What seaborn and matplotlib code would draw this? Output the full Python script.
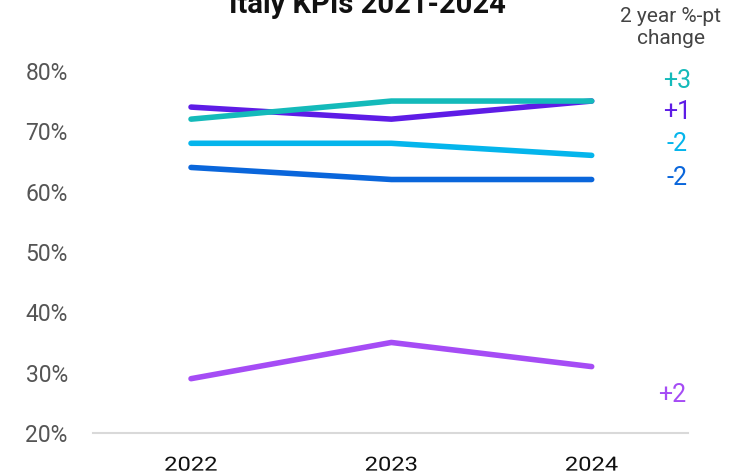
import matplotlib
matplotlib.use("Agg")
import matplotlib.pyplot as plt
import seaborn as sns
import pandas as pd
from matplotlib.patheffects import AbstractPathEffect
from matplotlib.transforms import Affine2D

years = ["2022", "2023", "2024"]
kpi_names = ["KPI A", "KPI B", "KPI C", "KPI D", "KPI E"]
kpi_a = [74, 72, 75]
kpi_b = [72, 75, 75]
kpi_c = [68, 68, 66]
kpi_d = [64, 62, 62]
kpi_e = [29, 35, 31]
changes = ["+1", "+3", "-2", "-2", "+2"]
colors = ["#5E1CE6", "#14BABA", "#05B5EC", "#0A66DB", "#A54CF5"]
y_ticks = [20, 30, 40, 50, 60, 70, 80]


class HStretch(AbstractPathEffect):
    """Widen text glyphs horizontally about their own centre."""

    def __init__(self, sx):
        super().__init__()
        self.sx = sx

    def draw_path(self, renderer, gc, tpath, affine, rgbFace=None):
        ext = tpath.get_extents(affine)
        cx = (ext.x0 + ext.x1) / 2
        aff = affine + Affine2D().translate(-cx, 0).scale(self.sx, 1).translate(cx, 0)
        renderer.draw_path(gc, tpath, aff, rgbFace)


series = [kpi_a, kpi_b, kpi_c, kpi_d, kpi_e]
df = pd.DataFrame({
    "x": list(range(len(years))) * len(kpi_names),
    "kpi": [k for k in kpi_names for _ in years],
    "value": [v for s in series for v in s],
})

sns.set_theme(style="white")
plt.rcParams["font.family"] = ["Roboto", "DejaVu Sans"]

fig = plt.figure(figsize=(7.31, 4.74), dpi=100)
ax = fig.add_axes([0.127, 0.0865, 0.814, 0.764])

sns.lineplot(data=df, x="x", y="value", hue="kpi", palette=colors,
             hue_order=kpi_names, linewidth=4, legend=False, ax=ax,
             solid_capstyle="round", clip_on=False)

ax.set_xlim(-0.49, 2.48)
ax.set_ylim(20, 80)
ax.set_xticks(range(len(years)))
ax.set_xticklabels(years, fontsize=14, color="#111111")
ax.set_yticks(y_ticks)
ax.set_yticklabels([f"{t}%" for t in y_ticks], fontsize=16.5, color="#555555")
ax.tick_params(axis="both", length=0)
ax.tick_params(axis="x", pad=17)
ax.tick_params(axis="y", pad=18)
for lbl in ax.get_xticklabels():
    lbl.set_path_effects([HStretch(1.22)])
ax.set_xlabel("")
ax.set_ylabel("")
for side in ["top", "right", "left"]:
    ax.spines[side].set_visible(False)
ax.spines["bottom"].set_color("#D9D9D9")
ax.spines["bottom"].set_linewidth(1.5)

# change labels to the right of each line's last point
label_pos = [(677, 112), (677, 81), (677, 144), (677, 178), (672, 395)]
for txt, col, (xpx, ypx) in zip(changes, colors, label_pos):
    fig.text(xpx / 731, 1 - ypx / 474, txt, color=col, fontsize=18,
             ha="center", va="center")

fig.text(671 / 731, 1 - 16 / 474, "2 year %-pt", color="#444444",
         fontsize=15, ha="center", va="center")
fig.text(671 / 731, 1 - 39 / 474, "change", color="#444444",
         fontsize=15, ha="center", va="center")

fig.text(367 / 731, 1 - 13 / 474, "Italy KPIs 2021-2024", color="#111111",
         fontsize=21, fontweight="bold", ha="center", va="baseline")

fig.savefig("out.png", dpi=100)
